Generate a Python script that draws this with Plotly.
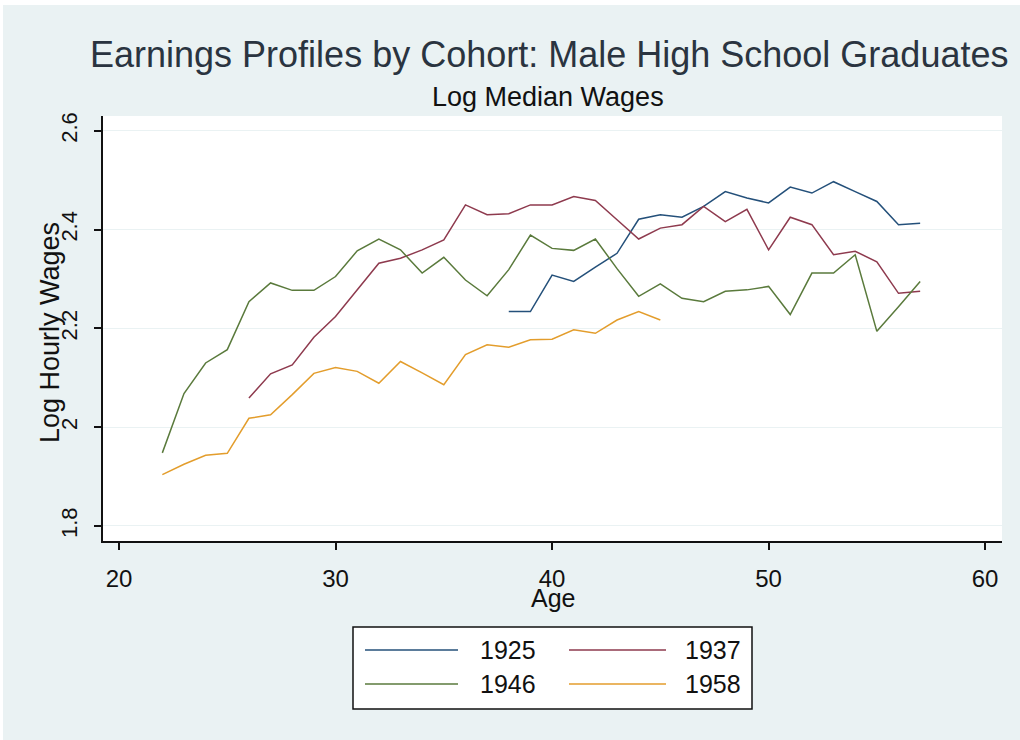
import plotly.graph_objects as go

# ---------------- data ----------------
cohorts = ["1925", "1937", "1946", "1958"]

ages_1925 = list(range(38, 58))
wage_1925 = [2.234, 2.234, 2.308, 2.295, 2.324, 2.352, 2.421, 2.430, 2.425, 2.447,
             2.477, 2.464, 2.454, 2.486, 2.474, 2.497, 2.477, 2.457, 2.410, 2.413]

ages_1937 = list(range(26, 58))
wage_1937 = [2.059, 2.108, 2.126, 2.182, 2.224, 2.278, 2.332, 2.342, 2.359, 2.379,
             2.450, 2.430, 2.432, 2.450, 2.450, 2.467, 2.459, 2.420, 2.381, 2.403,
             2.410, 2.447, 2.416, 2.441, 2.359, 2.425, 2.410, 2.349, 2.356, 2.335,
             2.271, 2.275]

ages_1946 = list(range(22, 58))
wage_1946 = [1.948, 2.068, 2.130, 2.157, 2.254, 2.292, 2.277, 2.277, 2.305, 2.357,
             2.381, 2.359, 2.312, 2.344, 2.298, 2.266, 2.319, 2.389, 2.362, 2.358,
             2.381, 2.321, 2.265, 2.290, 2.261, 2.254, 2.275, 2.278, 2.285, 2.228,
             2.312, 2.312, 2.349, 2.194, 2.244, 2.295]

ages_1958 = list(range(22, 46))
wage_1958 = [1.904, 1.925, 1.943, 1.947, 2.018, 2.025, 2.066, 2.109, 2.121, 2.113,
             2.089, 2.133, 2.110, 2.086, 2.147, 2.167, 2.162, 2.177, 2.178, 2.197,
             2.190, 2.217, 2.234, 2.217]

x_ticks = [20, 30, 40, 50, 60]
y_ticks = [1.8, 2.0, 2.2, 2.4, 2.6]
y_tick_text = ["1.8", "2", "2.2", "2.4", "2.6"]

# ---------------- style ----------------
colors = {"1925": "#24507a", "1937": "#8e3a4e", "1946": "#5a7a3c", "1958": "#e39d2c"}
BG = "#eaf2f3"
FONT = "Liberation Sans, Arial, sans-serif"

W, H = 1020, 740
L, R, T, B = 103, 18, 116, 199
PW, PH = W - L - R, H - T - B


def fx(px):
    return (px - L) / PW


def fy(py):
    return (H - B - py) / PH


series = {
    "1925": (ages_1925, wage_1925),
    "1937": (ages_1937, wage_1937),
    "1946": (ages_1946, wage_1946),
    "1958": (ages_1958, wage_1958),
}

fig = go.Figure()
for c in cohorts:
    xs, ys = series[c]
    fig.add_trace(go.Scatter(x=xs, y=ys, mode="lines", name=c,
                             line=dict(color=colors[c], width=1.5),
                             showlegend=False))

shapes = [
    # outer background (thin white border at top/left like the reference)
    dict(type="rect", xref="paper", yref="paper", x0=fx(3), x1=fx(W + 5),
         y0=fy(H + 5), y1=fy(5), fillcolor=BG, line=dict(width=0), layer="below"),
    # plot area
    dict(type="rect", xref="paper", yref="paper", x0=0, x1=1, y0=0, y1=1,
         fillcolor="white", line=dict(width=0), layer="below"),
    # legend box
    dict(type="rect", xref="paper", yref="paper", x0=fx(353), x1=fx(752),
         y0=fy(709), y1=fy(627), fillcolor="white",
         line=dict(color="#111111", width=1.5), layer="above"),
]

annotations = [
    dict(text="Earnings Profiles by Cohort: Male High School Graduates",
         x=fx(549), y=fy(55), xref="paper", yref="paper", showarrow=False,
         xanchor="center", yanchor="middle",
         font=dict(family=FONT, size=36, color="#2a3440")),
    dict(text="Log Median Wages", x=fx(548), y=fy(97), xref="paper", yref="paper",
         showarrow=False, xanchor="center", yanchor="middle",
         font=dict(family=FONT, size=27, color="#111111")),
    dict(text="Age", x=fx(553), y=fy(598), xref="paper", yref="paper",
         showarrow=False, xanchor="center", yanchor="middle",
         font=dict(family=FONT, size=25, color="#111111")),
    dict(text="Log Hourly Wages", x=fx(50), y=fy(333), xref="paper", yref="paper",
         showarrow=False, xanchor="center", yanchor="middle", textangle=-90,
         font=dict(family=FONT, size=27, color="#111111")),
]

# manual legend: two columns, two rows
leg_rows = [650, 684]
leg_line_x = [(365, 458), (569, 666)]
leg_text_x = [478, 683]
for i, c in enumerate(cohorts):
    row, col = divmod(i, 2)
    y = leg_rows[row]
    x0, x1 = leg_line_x[col]
    shapes.append(dict(type="line", xref="paper", yref="paper",
                       x0=fx(x0), x1=fx(x1), y0=fy(y), y1=fy(y),
                       line=dict(color=colors[c], width=1.6), layer="above"))
    annotations.append(dict(text=c, x=fx(leg_text_x[col]), y=fy(y), xref="paper",
                            yref="paper", showarrow=False, xanchor="left",
                            yanchor="middle",
                            font=dict(family=FONT, size=25, color="#111111")))

fig.update_layout(
    width=W, height=H,
    margin=dict(l=L, r=R, t=T, b=B, pad=0),
    paper_bgcolor="white",
    plot_bgcolor="rgba(0,0,0,0)",
    shapes=shapes,
    annotations=annotations,
    showlegend=False,
    xaxis=dict(range=[19.26, 60.78], tickvals=x_ticks, ticks="outside", ticklen=7,
               tickwidth=1.5, tickcolor="#111111", showline=True, linecolor="#111111",
               linewidth=1.5, showgrid=False, zeroline=False,
               tickfont=dict(family=FONT, size=24, color="#111111"),
               ticklabelstandoff=8),
    yaxis=dict(range=[1.7696, 2.630], tickvals=y_ticks, ticktext=y_tick_text,
               ticks="outside", ticklen=7, tickwidth=1.5, tickcolor="#111111",
               showline=True, linecolor="#111111", linewidth=1.5,
               showgrid=True, gridcolor=BG, gridwidth=1.2, zeroline=False,
               tickangle=-90, tickfont=dict(family=FONT, size=22, color="#111111"),
               ticklabelstandoff=8),
)

fig.write_html("out.html",
               config={"displayModeBar": False},
               post_script="document.body.style.margin='0';document.body.style.overflow='hidden';")
